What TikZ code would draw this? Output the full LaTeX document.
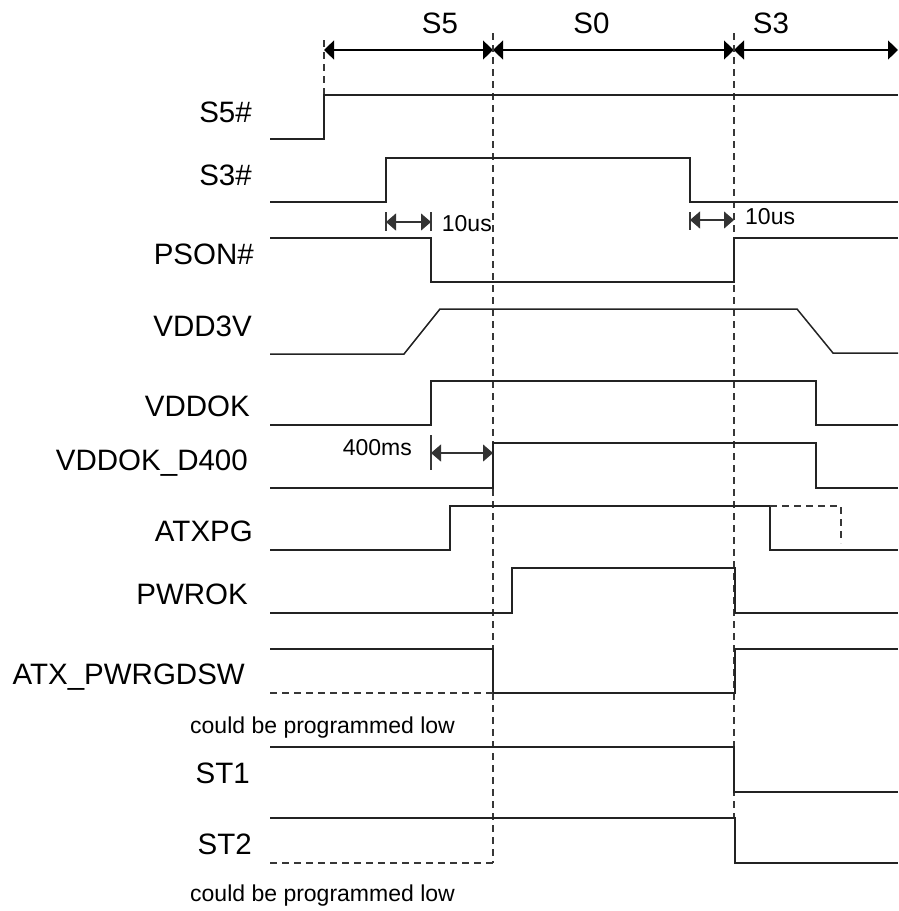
\documentclass[tikz,border=0pt]{standalone}
\usepackage{fontspec}
\setmainfont{Liberation Sans}
\usepackage{xcolor}
\usepackage{tikz}
\usetikzlibrary{arrows.meta,positioning,calc}
\definecolor{wavecol}{RGB}{35, 35, 35}
\definecolor{guidecol}{RGB}{55, 55, 55}
\tikzset{
    wave/.style={wavecol, line width=1.5pt, line join=miter},
    guide/.style={guidecol, line width=1.2pt, dash pattern=on 7pt off 5pt},
    dimline/.style={black, line width=1.2pt, {Triangle[length=10pt,width=19pt]}-{Triangle[length=10pt,width=19pt]}},
    gapline/.style={black!80, line width=1.1pt, {Triangle[length=10pt,width=17pt]}-{Triangle[length=10pt,width=17pt]}},
    tickline/.style={guidecol, line width=1.2pt},
    sig/.style={anchor=base east, inner sep=0pt, font=\fontsize{29.5}{30}\selectfont},
    phase/.style={anchor=base, inner sep=0pt, font=\fontsize{29.5}{30}\selectfont},
    note/.style={anchor=base west, inner sep=0pt, font=\fontsize{23}{24}\selectfont},
}

\begin{document}
\begin{tikzpicture}[x=1pt, y=-1pt]
    \useasboundingbox (0,0) rectangle (898,911);

    \coordinate (h0) at (324,50);
    \coordinate (h1) at (493,50);
    \coordinate (h2) at (734,50);
    \coordinate (h3) at (898,50);
    \draw[dimline] (h0) -- (h1);
    \draw[dimline] (h1) -- (h2);
    \draw[dimline] (h2) -- (h3);
    \node[phase] (pS5) at (440,33.3) {S5};
    \node[phase] (pS0) at (591.5,33.3) {S0};
    \node[phase] (pS3) at (771,33.3) {S3};

    \draw[guide] (324,40) -- (324,95);
    \draw[guide] (493,33) -- (493,863);
    \draw[guide] (734,33) -- (734,818);

    \node[sig] (lS5) at (252,122) {S5\#};
    \node[sig] (lS3) at (252,185) {S3\#};
    \node[sig] (lPSON) at (254,264.5) {PSON\#};
    \node[sig] (lVDD) at (252,336) {VDD3V};
    \node[sig] (lVDDOK) at (250,416.7) {VDDOK};
    \node[sig] (lD400) at (248,470) {VDDOK\_D400};
    \node[sig] (lATXPG) at (253,541.7) {ATXPG};
    \node[sig] (lPWROK) at (248,604) {PWROK};
    \node[sig] (lPWRGD) at (245,684) {ATX\_PWRGDSW};
    \node[sig] (lST1) at (250,783) {ST1};
    \node[sig] (lST2) at (252,854) {ST2};

    \draw[wave] (270,139) -- (324,139) -- (324,95) -- (898,95);
    \draw[wave] (270,202) -- (386,202) -- (386,158) -- (690,158) -- (690,202) -- (898,202);
    \draw[wave] (270,238) -- (431,238) -- (431,282) -- (734,282) -- (734,238) -- (898,238);
    \draw[wave] (270,354) -- (404,354) -- (440,309) -- (797,309) -- (833,353) -- (898,353);
    \draw[wave] (270,425) -- (431,425) -- (431,381) -- (816,381) -- (816,425) -- (898,425);
    \draw[wave] (270,488) -- (493,488) -- (493,443) -- (816,443) -- (816,488) -- (898,488);
    \draw[wave] (270,550) -- (450,550) -- (450,506) -- (770,506) -- (770,550) -- (898,550);
    \draw[guide] (770,506) -- (841,506) -- (841,543);
    \draw[wave] (270,613) -- (512,613) -- (512,568) -- (735,568) -- (735,613) -- (898,613);
    \draw[wave] (270,649) -- (493,649) -- (493,693) -- (735,693) -- (735,649) -- (898,649);
    \draw[guide] (270,693) -- (493,693);
    \draw[wave] (270,747) -- (734,747) -- (734,792) -- (898,792);
    \draw[wave] (270,818) -- (735,818) -- (735,863) -- (898,863);
    \draw[guide] (270,863) -- (493,863);

    \coordinate (g0) at (386,222);
    \coordinate (g1) at (431,222);
    \draw[tickline] (386,212) -- (386,231);
    \draw[tickline] (431,212) -- (431,231);
    \draw[gapline] (g0) -- (g1);
    \node[note] (n10a) at (441.7,231.7) {10us};

    \coordinate (g2) at (690,220);
    \coordinate (g3) at (734,220);
    \draw[tickline] (690,212) -- (690,230);
    \draw[gapline] (g2) -- (g3);
    \node[note] (n10b) at (745,224) {10us};

    \coordinate (g4) at (431,453);
    \coordinate (g5) at (493,453);
    \draw[tickline] (431,435) -- (431,470);
    \draw[gapline] (g4) -- (g5);
    \node[note, anchor=base east] (n400) at (412,455.7) {400ms};

    \node[note] (nlow1) at (190,733) {could be programmed low};
    \node[note] (nlow2) at (190,901.7) {could be programmed low};
\end{tikzpicture}
\end{document}
